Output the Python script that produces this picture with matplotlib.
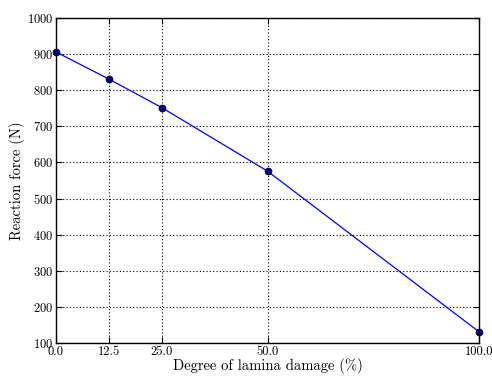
"""Reaction force versus degree of lamina damage."""

import matplotlib

matplotlib.use("Agg")
import matplotlib.pyplot as plt

# Damage levels (%) and measured reaction force (N)
damage = [0.0, 12.5, 25.0, 50.0, 100.0]
force = [906, 831, 752, 576, 131]

x_ticks = [0.0, 12.5, 25.0, 50.0, 100.0]
y_ticks = list(range(100, 1001, 100))

plt.rcParams["font.family"] = "serif"
plt.rcParams["font.serif"] = ["cmr10"]
plt.rcParams["axes.formatter.use_mathtext"] = True
plt.rcParams["mathtext.fontset"] = "cm"

fig = plt.figure(figsize=(4.92, 3.76), dpi=100)
ax = fig.add_axes([0.1138, 0.0878, 0.8598, 0.8642])

ax.plot(damage, force, color="blue", linewidth=0.9, zorder=3)
ax.plot(damage, force, "o", color="#000080", markeredgecolor="black",
        markersize=5, markeredgewidth=0.5, clip_on=False, zorder=4)

ax.set_xlim(0, 100)
ax.set_ylim(100, 1000)
ax.set_xticks(x_ticks)
ax.set_xticklabels([f"{t:.1f}" for t in x_ticks])
ax.set_yticks(y_ticks)

ax.grid(True, color="black", linestyle=(0, (1, 2)), linewidth=0.8)
ax.tick_params(direction="in", length=4, width=0.8, top=True, right=True,
               labelsize=9, pad=2)
for spine in ax.spines.values():
    spine.set_linewidth(1.0)

ax.set_xlabel("Degree of lamina damage (%)", fontsize=10.5, labelpad=0)
ax.set_ylabel("Reaction force (N)", fontsize=10.5, labelpad=1)

fig.savefig("out.png", dpi=100)
